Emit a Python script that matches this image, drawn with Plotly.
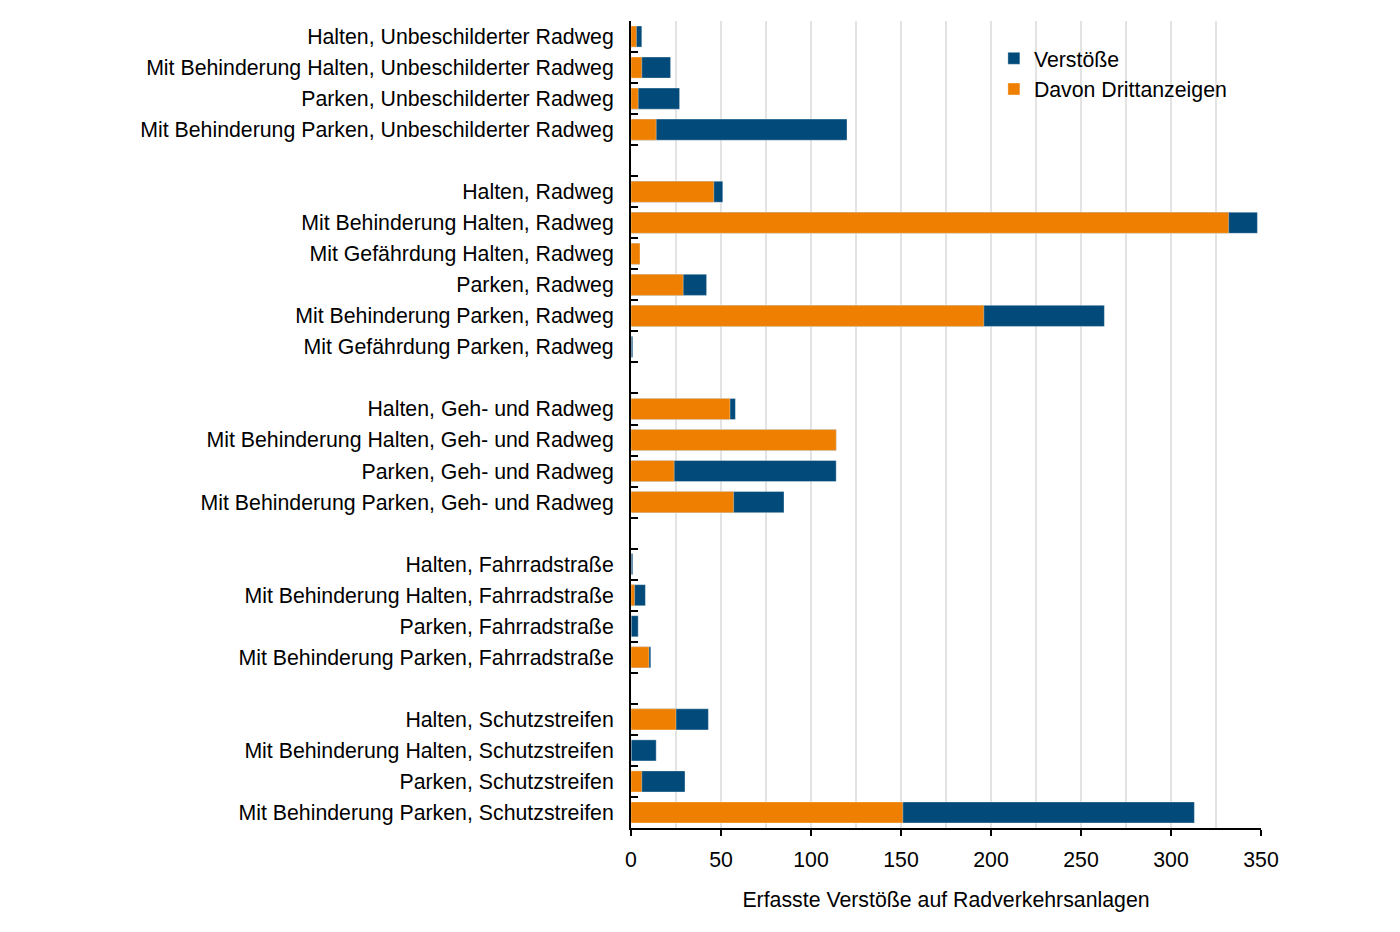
import plotly.graph_objects as go

categories = [
    "Halten, Unbeschilderter Radweg",
    "Mit Behinderung Halten, Unbeschilderter Radweg",
    "Parken, Unbeschilderter Radweg",
    "Mit Behinderung Parken, Unbeschilderter Radweg",
    " ",
    "Halten, Radweg",
    "Mit Behinderung Halten, Radweg",
    "Mit Gefährdung Halten, Radweg",
    "Parken, Radweg",
    "Mit Behinderung Parken, Radweg",
    "Mit Gefährdung Parken, Radweg",
    "  ",
    "Halten, Geh- und Radweg",
    "Mit Behinderung Halten, Geh- und Radweg",
    "Parken, Geh- und Radweg",
    "Mit Behinderung Parken, Geh- und Radweg",
    "   ",
    "Halten, Fahrradstraße",
    "Mit Behinderung Halten, Fahrradstraße",
    "Parken, Fahrradstraße",
    "Mit Behinderung Parken, Fahrradstraße",
    "    ",
    "Halten, Schutzstreifen",
    "Mit Behinderung Halten, Schutzstreifen",
    "Parken, Schutzstreifen",
    "Mit Behinderung Parken, Schutzstreifen",
]

verstoesse = [6, 22, 27, 120, None,
              51, 348, 5, 42, 263, 1, None,
              58, 114, 114, 85, None,
              1, 8, 4, 11, None,
              43, 14, 30, 313]

drittanzeigen = [3, 6, 4, 14, None,
                 46, 332, 5, 29, 196, 0, None,
                 55, 114, 24, 57, None,
                 0, 2, 0, 10, None,
                 25, 0, 6, 151]

BLUE = "#024A7A"
ORANGE = "#EE7F00"
FONT = "Liberation Sans, Arial, sans-serif"

fig = go.Figure()
fig.add_trace(go.Bar(
    y=categories, x=verstoesse, orientation="h", name="Verstöße",
    marker=dict(color=BLUE, line=dict(width=0.6, color="rgba(255,255,255,0.6)")),
))
fig.add_trace(go.Bar(
    y=categories, x=drittanzeigen, orientation="h", name="Davon Drittanzeigen",
    marker=dict(color=ORANGE, line=dict(width=0.6, color="rgba(255,255,255,0.6)")),
))

fig.update_layout(
    width=1400, height=932,
    barmode="overlay",
    bargap=0.32,
    plot_bgcolor="white",
    paper_bgcolor="white",
    font=dict(family=FONT, size=21.3, color="black"),
    margin=dict(l=623, r=147, t=13, b=112, autoexpand=False),
    legend=dict(
        x=0.576, y=0.979, xanchor="left", yanchor="top",
        bgcolor="rgba(0,0,0,0)", font=dict(size=21.3),
        itemwidth=30, tracegroupgap=0,
    ),
    showlegend=True,
)

fig.update_xaxes(
    range=[0, 350],
    dtick=50, tick0=0,
    showgrid=True, gridcolor="#E3E3E3", gridwidth=1.5,
    minor=dict(dtick=25, showgrid=True, gridcolor="#E3E3E3", gridwidth=1.5),
    showline=True, linecolor="black", linewidth=2,
    ticks="outside", ticklen=6, tickwidth=2, tickcolor="black",
    ticklabelstandoff=5,
    zeroline=False,
    title=dict(text="Erfasste Verstöße auf Radverkehrsanlagen", standoff=22,
               font=dict(size=21.3)),
)

fig.update_yaxes(
    type="category",
    categoryorder="array", categoryarray=categories,
    autorange="reversed",
    showline=True, linecolor="black", linewidth=2,
    ticks="inside", ticklen=7, tickwidth=2, tickcolor="black",
    tickson="boundaries",
    ticklabelstandoff=11,
    showgrid=False,
)

fig.write_html("out.html")
